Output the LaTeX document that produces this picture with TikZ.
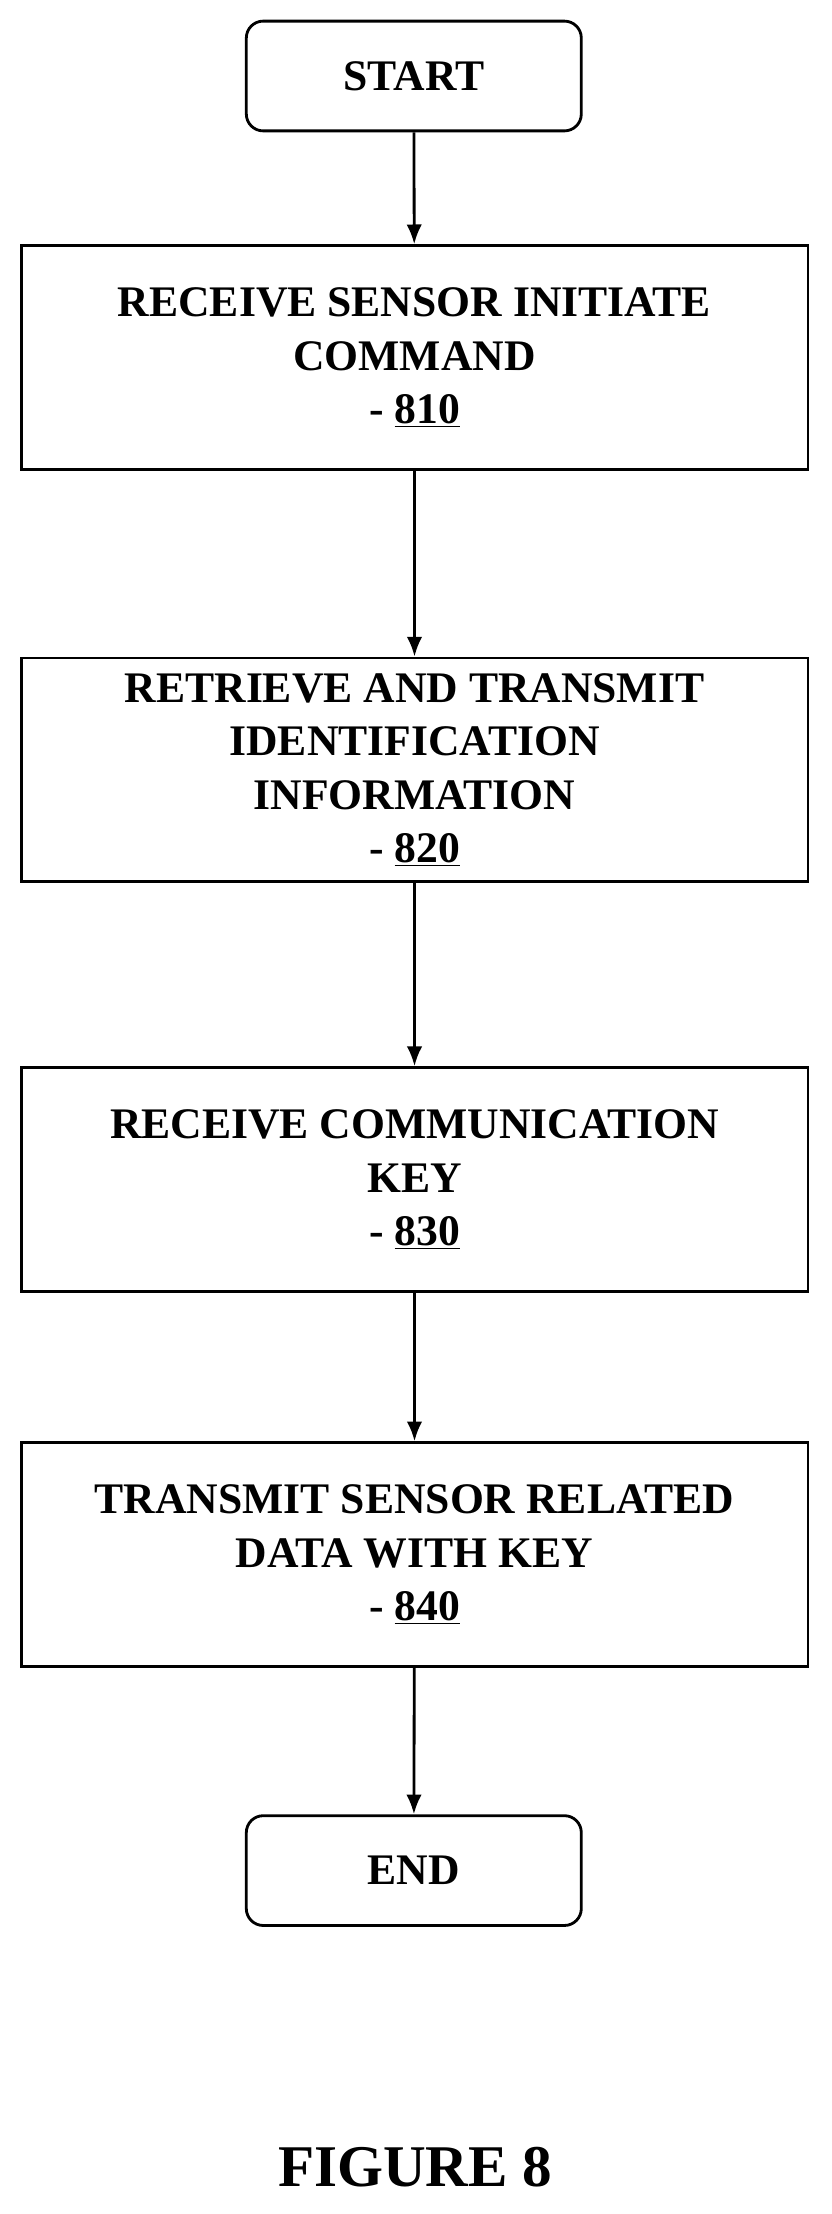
\documentclass[tikz,border=0pt]{standalone}
\usepackage{fontspec}
\setmainfont{Liberation Serif}
\usetikzlibrary{positioning,arrows.meta}

\begin{document}
\begin{tikzpicture}[x=1pt,y=-1pt,line width=2pt,
  procbox/.style={draw,minimum width=559pt,minimum height=159pt,align=center,
    font=\fontsize{31}{38}\selectfont\bfseries},
  term/.style={draw,rounded corners=12pt,minimum width=238pt,minimum height=78pt,
    font=\fontsize{31}{38}\selectfont\bfseries},
  flow/.style={-{Latex[length=14pt,width=11pt]}}]

% Canvas
\useasboundingbox (0,0) rectangle (591,1573);

% Terminals and steps
\node[term] (start) at (294,54) {START};
\node[procbox] (s810) at (294.5,254) {RECEIVE SENSOR INITIATE\\COMMAND\\- \underline{810}};
\node[procbox] (s820) at (294.5,547) {RETRIEVE AND TRANSMIT\\IDENTIFICATION\\INFORMATION\\- \underline{820}};
\node[procbox] (s830) at (294.5,838) {RECEIVE COMMUNICATION\\KEY\\- \underline{830}};
\node[procbox] (s840) at (294.5,1104.5) {TRANSMIT SENSOR RELATED\\DATA WITH KEY\\- \underline{840}};
\node[term] (end) at (294,1329) {END};

% Arrows
\draw[flow] (start) -- (s810);
\draw[flow] (s810) -- (s820);
\draw[flow] (s820) -- (s830);
\draw[flow] (s830) -- (s840);
\draw[flow] (s840) -- (end);

% Caption
\node[font=\fontsize{42}{48}\selectfont\bfseries] (fig) at (295,1540) {FIGURE 8};

\end{tikzpicture}
\end{document}
